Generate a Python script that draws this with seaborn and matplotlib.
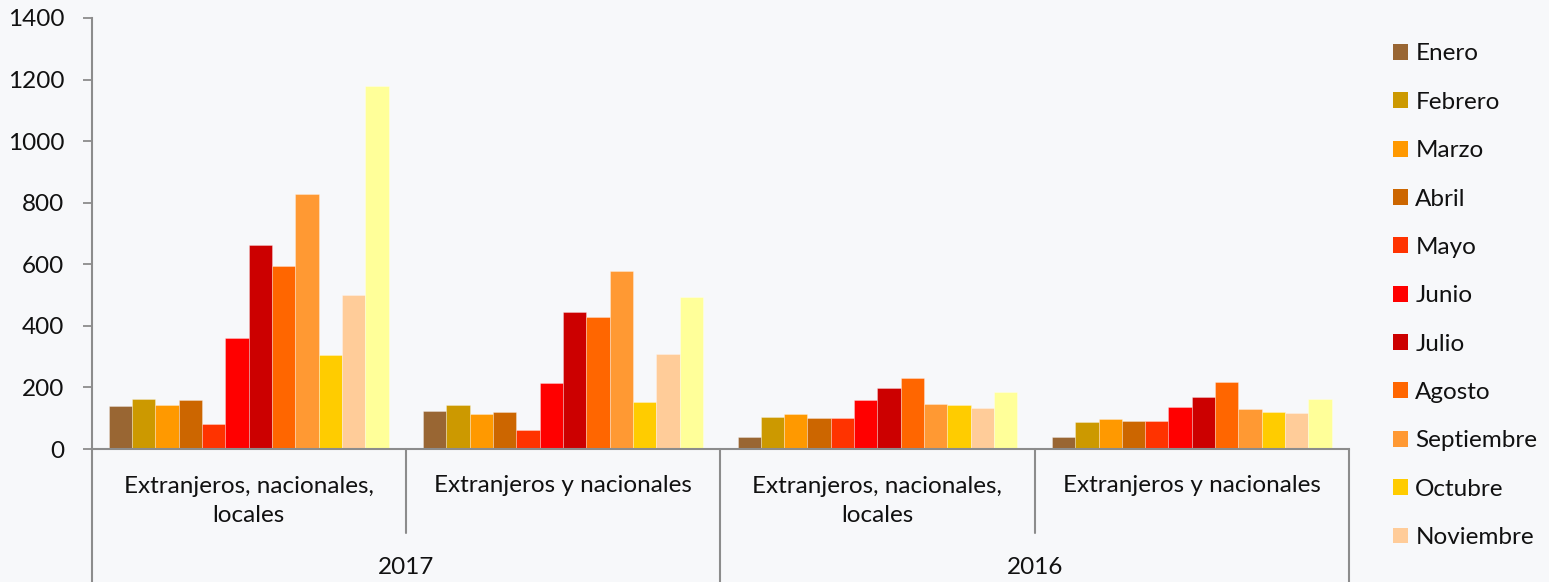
import numpy as np
import pandas as pd
import seaborn as sns
import matplotlib
matplotlib.use("Agg")
import matplotlib.pyplot as plt
import matplotlib.transforms as mtransforms
from matplotlib.patches import Patch
from matplotlib.lines import Line2D

# ---------------- data ----------------
years = ["2017", "2016"]
segments = ["Extranjeros, nacionales,\nlocales", "Extranjeros y nacionales"]
group_keys = ["2017 | ENL", "2017 | EN", "2016 | ENL", "2016 | EN"]
group_labels = [segments[0], segments[1], segments[0], segments[1]]

months = ["Enero", "Febrero", "Marzo", "Abril", "Mayo", "Junio", "Julio",
          "Agosto", "Septiembre", "Octubre", "Noviembre", "Diciembre"]
colors = ["#996633", "#CC9900", "#FF9900", "#CC6600", "#FF3300", "#FF0000",
          "#CC0000", "#FF6600", "#FF9933", "#FFCC00", "#FFCC99", "#FFFF99"]

v_2017_enl = [140, 162, 143, 158, 80, 360, 664, 594, 827, 305, 501, 1178]
v_2017_en = [124, 144, 115, 119, 62, 213, 445, 429, 578, 153, 308, 493]
v_2016_enl = [40, 104, 114, 100, 100, 160, 197, 232, 147, 142, 132, 185]
v_2016_en = [40, 87, 97, 92, 90, 136, 169, 217, 129, 120, 118, 162]

y_ticks = [0, 200, 400, 600, 800, 1000, 1200, 1400]

series = [v_2017_enl, v_2017_en, v_2016_enl, v_2016_en]
rows = []
for key, vals in zip(group_keys, series):
    for m, v in zip(months, vals):
        rows.append({"grupo": key, "mes": m, "valor": v})
df = pd.DataFrame(rows)

# ---------------- style ----------------
BG = "#F7F8FA"
AX = "#8C8C8C"
TXT = "#111111"
FS = 17.5
sns.set_theme(style="white")
plt.rcParams["font.family"] = ["Lato", "DejaVu Sans"]
plt.rcParams["font.size"] = FS

W, H = 1549, 582
L, R, T, B = 91.5, 1349, 18, 449
fig = plt.figure(figsize=(W / 100, H / 100), dpi=100, facecolor=BG)
ax = fig.add_axes([L / W, (H - B) / H, (R - L) / W, (B - T) / H])
ax.set_facecolor(BG)

sns.barplot(data=df, x="grupo", y="valor", hue="mes", order=group_keys,
            hue_order=months, palette=colors, saturation=1, width=0.89, gap=0,
            edgecolor=(1, 1, 1, 0.35), linewidth=0.6, legend=False, ax=ax)

ax.set_xlim(-0.5, 3.5)
ax.set_ylim(0, 1400)
ax.set_yticks(y_ticks)
ax.set_yticklabels([str(t) for t in y_ticks], fontsize=FS, color=TXT)
ax.set_xticks([])
ax.set_xlabel("")
ax.set_ylabel("")
ax.tick_params(axis="y", direction="out", length=6.5, width=1.3, color=AX,
               pad=13, left=True)
for s in ["top", "right"]:
    ax.spines[s].set_visible(False)
for s in ["left", "bottom"]:
    ax.spines[s].set_color(AX)
    ax.spines[s].set_linewidth(1.5)

trans = mtransforms.blended_transform_factory(ax.transData, ax.transAxes)
ph = B - T  # axes height in pixels


def ya(py):
    return (B - py) / ph


# category labels
for i, lab in enumerate(group_labels):
    if "\n" in lab:
        ax.text(i, ya(501), lab, transform=trans, ha="center", va="center",
                fontsize=FS, linespacing=1.52, color=TXT)
    else:
        ax.text(i, ya(485), lab, transform=trans, ha="center", va="center",
                fontsize=FS, color=TXT)
for j, yr in enumerate(years):
    ax.text(0.5 + 2 * j, ya(568), yr, transform=trans, ha="center",
            va="center", fontsize=FS, color=TXT)

# separators
for x in [0.5, 2.5]:
    ax.add_line(Line2D([x, x], [0, ya(533)], transform=trans, color=AX,
                       lw=1.5, clip_on=False))
for x in [-0.5, 1.5, 3.5]:
    ax.add_line(Line2D([x, x], [0, ya(590)], transform=trans, color=AX,
                       lw=1.5, clip_on=False))

# legend (Diciembre falls off the figure in the original)
handles = [Patch(facecolor=c, edgecolor="none") for c in colors[:11]]
fig.legend(handles, months[:11], loc="upper left",
           bbox_to_anchor=(1393 / W, (H - 43.5) / H), frameon=False,
           fontsize=FS, labelspacing=1.125, handlelength=0.62,
           handleheight=0.62, handletextpad=0.3, borderpad=0,
           borderaxespad=0, labelcolor=TXT)

fig.savefig("out.png", dpi=100, facecolor=BG)
